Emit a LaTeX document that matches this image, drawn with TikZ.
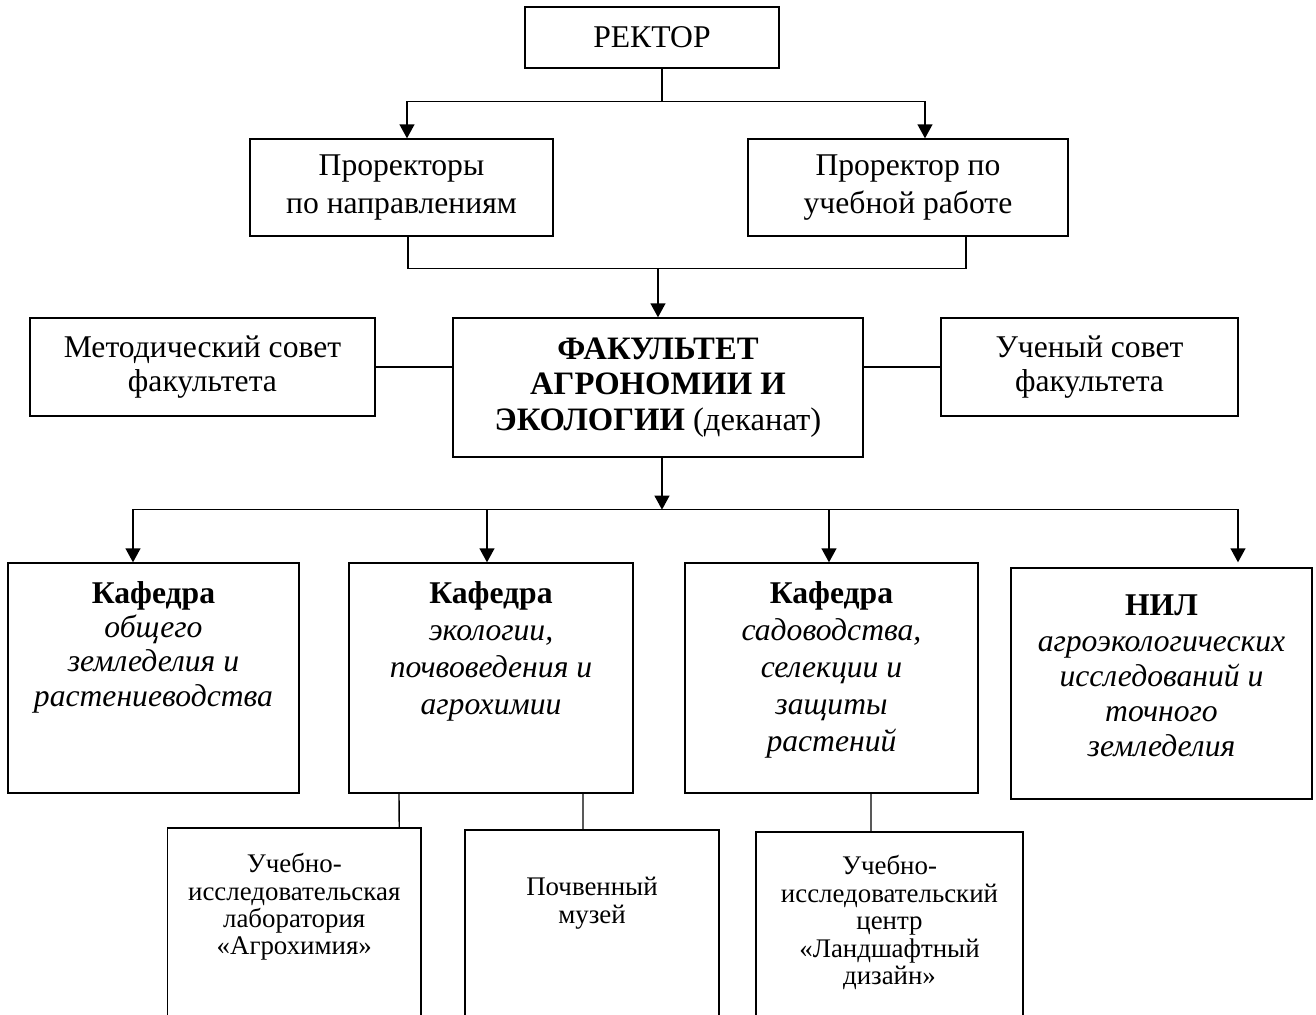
\documentclass[tikz,border=0pt]{standalone}
\usepackage{fontspec}
\setmainfont{Liberation Serif}
\usetikzlibrary{arrows.meta}
\newcommand{\kaf}[3]{\parbox[t][#1][t]{#2}{\centering\vspace*{10.5pt}#3}}
\tikzstyle{rect} = [rectangle, 
draw=black, 
line width=0.75pt, 
text centered, 
inner sep=0pt]
\tikzstyle{head} = [rect, 
minimum width=5.08cm, 
minimum height=1.22cm, 
font=\fontsize{18}{22}\selectfont]
\tikzstyle{prorector} = [rect, 
minimum height=1.94cm, 
align=center, 
font=\fontsize{18}{22}\selectfont]
\tikzstyle{council} = [rect, 
minimum height=1.96cm, 
align=center, 
font=\fontsize{18}{19}\selectfont]
\tikzstyle{deanbox} = [rect, 
minimum width=8.2cm, 
minimum height=2.78cm, 
align=center, 
font=\fontsize{18.6}{20.2}\selectfont\bfseries]
\tikzstyle{kafedra} = [rect, 
font=\fontsize{18}{21}\selectfont]
\tikzstyle{unit} = [rect, 
font=\fontsize{15.3}{15.6}\selectfont]
\tikzstyle{link} = [line width=0.8pt]
\tikzstyle{arrow} = [line width=0.9pt,-{Triangle[length=8pt,width=8.5pt]}]

\begin{document}
\begin{tikzpicture}[node distance=3cm]
\useasboundingbox (-13.04,0.75) rectangle (13.28,-19.55);

\node (rector) [head] {РЕКТОР};
\node (prorL) [prorector, minimum width=6.06cm, below of=rector, xshift=-5.01cm] {Проректоры\\по направлениям};
\node (prorR) [prorector, minimum width=6.4cm, below of=rector, xshift=5.12cm] {Проректор по\\учебной работе};

\node (faculty) [deanbox, below of=rector, xshift=0.12cm, yshift=-4cm] {ФАКУЛЬТЕТ\\АГРОНОМИИ И\\ЭКОЛОГИИ \textnormal{(деканат)}};
\node (metod) [council, minimum width=6.9cm, left of=faculty, xshift=-6.11cm, yshift=0.41cm] {Методический совет\\факультета};
\node (uchen) [council, minimum width=5.94cm, right of=faculty, xshift=5.63cm, yshift=0.41cm] {Ученый совет\\факультета};

\node (kaf1) [kafedra, font=\fontsize{18}{19.5}\selectfont, below of=faculty, xshift=-10.09cm, yshift=-2.81cm] {\kaf{4.6cm}{5.82cm}{\textbf{Кафедра}\\\textit{общего\\земледелия и\\растениеводства}}};
\node (kaf2) [kafedra, below of=faculty, xshift=-3.34cm, yshift=-2.81cm] {\kaf{4.6cm}{5.68cm}{\textbf{Кафедра}\\\textit{экологии,\\почвоведения и\\агрохимии}}};
\node (kaf3) [kafedra, below of=faculty, xshift=3.47cm, yshift=-2.81cm] {\kaf{4.6cm}{5.86cm}{\textbf{Кафедра}\\\textit{садоводства,\\селекции и\\защиты\\растений}}};
\node (nil) [kafedra, font=\fontsize{18}{20}\selectfont, below of=faculty, xshift=10.07cm, yshift=-2.92cm] {\kaf{4.62cm}{6.02cm}{\vspace*{5pt}\textbf{НИЛ}\\\textit{агроэкологических\\исследований и\\точного\\земледелия}}};

\node (agrolab) [unit, below of=kaf2, xshift=-3.935cm, yshift=-2.10cm] {\kaf{4.2cm}{5.07cm}{\vspace*{4pt}Учебно-\\исследовательская\\лаборатория\\«Агрохимия»}};
\node (museum) [unit, below of=kaf2, xshift=2.02cm, yshift=-2.14cm] {\kaf{4.2cm}{5.08cm}{\vspace*{16.5pt}Почвенный\\музей}};
\node (landcenter) [unit, below of=kaf3, xshift=1.16cm, yshift=-2.18cm] {\kaf{4.2cm}{5.34cm}{\vspace*{3pt}Учебно-\\исследовательский\\центр\\«Ландшафтный\\дизайн»}};

\coordinate (split) at ([xshift=0.2cm, yshift=-0.66cm]rector.south);
\coordinate (join) at ([yshift=0.98cm]faculty.north);
\coordinate (split2) at ([xshift=0.08cm, yshift=-1.04cm]faculty.south);

\draw [link] ([xshift=0.2cm]rector.south) -- (split);
\draw [arrow] (split) -| ([xshift=0.11cm]prorL.north);
\draw [arrow] (split) -| ([xshift=0.34cm]prorR.north);
\draw [link] ([xshift=0.13cm]prorL.south) |- (join) -| ([xshift=1.16cm]prorR.south);
\draw [arrow] (join) -- (faculty.north);
\draw [link] (metod.east) -- (metod.east -| faculty.west);
\draw [link] (uchen.west) -- (uchen.west -| faculty.east);
\draw [arrow] ([xshift=0.08cm]faculty.south) -- (split2);
\draw [arrow] (split2) -| ([xshift=-0.41cm]kaf1.north);
\draw [arrow] (split2) -| ([xshift=-0.08cm]kaf2.north);
\draw [arrow] (split2) -| ([xshift=-0.05cm]kaf3.north);
\draw [arrow] (split2) -| ([xshift=1.53cm, yshift=0.1cm]nil.north);
\draw [link] ([xshift=2.1cm]agrolab.north) -- ([xshift=-1.84cm]kaf2.south);
\draw [link] ([xshift=-0.18cm]museum.north) -- ([xshift=1.84cm]kaf2.south);
\draw [link] ([xshift=-0.37cm]landcenter.north) -- ([xshift=0.79cm]kaf3.south);

\end{tikzpicture}
\end{document}
